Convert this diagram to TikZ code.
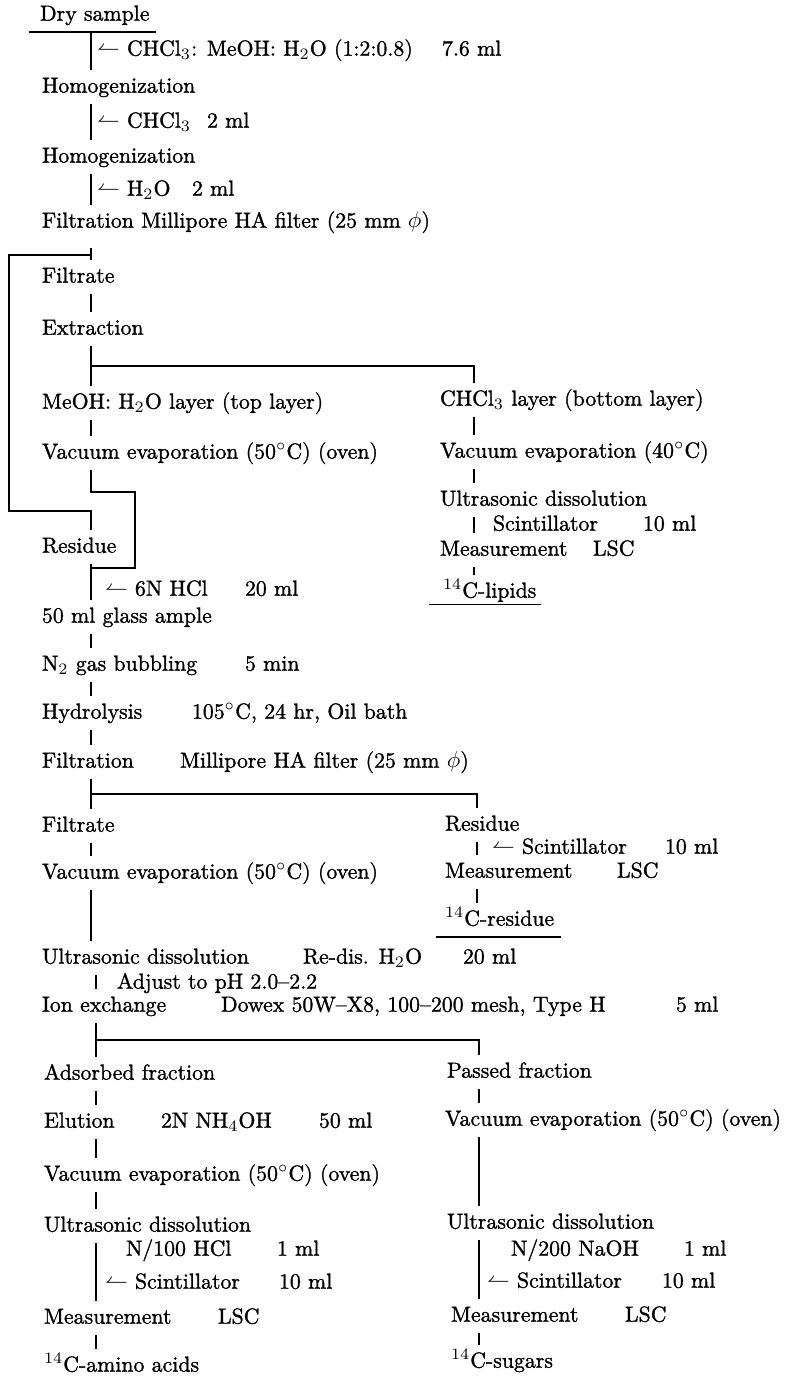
\documentclass[tikz,border=0pt]{standalone}
\usepackage{amsmath}
\usepackage{fontspec}
\setmainfont{Latin Modern Roman}[FakeBold=1.2]
\usepackage{tikz}
\usetikzlibrary{calc,positioning}

\begin{document}
\begin{tikzpicture}[x=0.44pt,y=-0.44pt,line width=0.6pt,
  every node/.append style={anchor=west,inner xsep=0pt,inner ysep=1pt,
    outer xsep=0pt,outer ysep=2pt,text height=7pt,text depth=2pt}]
  \tikzstyle{stage} = [font=\rmfamily\fontsize{9.6}{11}\selectfont,color=black]
  \tikzstyle{add} = [font=\rmfamily\fontsize{9.6}{11}\selectfont,color=black]
  \useasboundingbox (0,0) rectangle (788,1377);
  \coordinate (L) at (91,0);
  \coordinate (Lb) at (96,0);
  \coordinate (R2) at (474,0);
  \coordinate (R3) at (477,0);
  \coordinate (R4) at (479,0);
  % main line
  \node (1_1) [stage] at (40,15) {Dry sample};
  \node (1_2) [stage] at (42,87) {Homogenization};
  \node (1_3) [stage] at (42,157) {Homogenization};
  \node (1_4) [stage] at (42,222) {Filtration Millipore HA filter (25 mm $\phi$)};
  \node (1_5) [stage] at (42,277) {Filtrate};
  \node (1_6) [stage] at (42,329) {Extraction};
  \node (1_7) [stage] at (42,403) {MeOH: H$_2$O layer (top layer)};
  \node (1_8) [stage] at (42,453) {Vacuum evaporation (50$^\circ$C) (oven)};
  \node (1_9) [stage] at (42,547) {Residue};
  \node (1_10) [stage] at (42,617) {50 ml glass ample};
  \node (1_11) [stage] at (42,665) {N$_2$ gas bubbling};
  \node (1_11a) [stage] at (245,665) {5 min};
  \node (1_12) [stage] at (42,713) {Hydrolysis};
  \node (1_12a) [stage] at (192,713) {105$^\circ$C, 24 hr, Oil bath};
  \node (1_13) [stage] at (42,762) {Filtration};
  \node (1_13a) [stage] at (180,762) {Millipore HA filter (25 mm $\phi$)};
  \node (1_14) [stage] at (42,826) {Filtrate};
  \node (1_15) [stage] at (42,873) {Vacuum evaporation (50$^\circ$C) (oven)};
  \node (1_16) [stage] at (42,958) {Ultrasonic dissolution};
  \node (1_16a) [stage] at (303,958) {Re-dis. H$_2$O};
  \node (1_16b) [stage] at (463,958) {20 ml};
  \node (1_17) [stage] at (42,1006) {Ion exchange};
  \node (1_17a) [stage] at (221,1006) {Dowex 50W--X8, 100--200 mesh, Type H};
  \node (1_17b) [stage] at (676,1006) {5 ml};
  \node (1_18) [stage] at (44,1074) {Adsorbed fraction};
  \node (1_19) [stage] at (44,1122) {Elution};
  \node (1_19a) [stage] at (161,1122) {2N NH$_4$OH};
  \node (1_19b) [stage] at (319,1122) {50 ml};
  \node (1_20) [stage] at (44,1175) {Vacuum evaporation (50$^\circ$C) (oven)};
  \node (1_21) [stage] at (44,1226) {Ultrasonic dissolution};
  \node (1_22) [stage] at (44,1318) {Measurement};
  \node (1_22a) [stage] at (218,1318) {LSC};
  \node (1_23) [stage] at (44,1366) {$^{14}$C-amino acids};
  % lipid branch
  \node (2_1) [stage] at (440,400) {CHCl$_3$ layer (bottom layer)};
  \node (2_2) [stage] at (440,452) {Vacuum evaporation (40$^\circ$C)};
  \node (2_3) [stage] at (440,500) {Ultrasonic dissolution};
  \node (2_4) [stage] at (440,550) {Measurement};
  \node (2_4a) [stage] at (593,550) {LSC};
  \node (2_5) [stage] at (443,592) {$^{14}$C-lipids};
  % residue branch
  \node (3_1) [stage] at (445,825) {Residue};
  \node (3_2) [stage] at (445,872) {Measurement};
  \node (3_2a) [stage] at (617,872) {LSC};
  \node (3_3) [stage] at (445,920) {$^{14}$C-residue};
  % sugar branch
  \node (4_1) [stage] at (447,1072) {Passed fraction};
  \node (4_2) [stage] at (445,1120) {Vacuum evaporation (50$^\circ$C) (oven)};
  \node (4_3) [stage] at (447,1223) {Ultrasonic dissolution};
  \node (4_4) [stage] at (451,1316) {Measurement};
  \node (4_4a) [stage] at (625,1316) {LSC};
  \node (4_5) [stage] at (451,1362) {$^{14}$C-sugars};
  % additions
  \node (a_1) [add] at (97,50) {$\leftharpoonup$ CHCl$_3$: MeOH: H$_2$O (1:2:0.8)};
  \node (a_1b) [add] at (442,50) {7.6 ml};
  \node (a_2) [add] at (97,122) {$\leftharpoonup$ CHCl$_3$};
  \node (a_2b) [add] at (207,122) {2 ml};
  \node (a_3) [add] at (97,190) {$\leftharpoonup$ H$_2$O};
  \node (a_3b) [add] at (192,190) {2 ml};
  \node (a_4) [add] at (105,590) {$\leftharpoonup$ 6N\ HCl};
  \node (a_4b) [add] at (245,590) {20 ml};
  \node (a_5) [add] at (493,525) {Scintillator};
  \node (a_5b) [add] at (643,525) {10 ml};
  \node (a_6) [add] at (492,848) {$\leftharpoonup$ Scintillator};
  \node (a_6b) [add] at (665,848) {10 ml};
  \node (a_7) [add] at (117,983) {Adjust to pH 2.0--2.2};
  \node (a_8) [add] at (126,1250) {N/100 HCl};
  \node (a_8b) [add] at (277,1250) {1 ml};
  \node (a_9) [add] at (105,1283) {$\leftharpoonup$ Scintillator};
  \node (a_9b) [add] at (279,1283) {10 ml};
  \node (a_10) [add] at (511,1250) {N/200 NaOH};
  \node (a_10b) [add] at (684,1250) {1 ml};
  \node (a_11) [add] at (487,1282) {$\leftharpoonup$ Scintillator};
  \node (a_11b) [add] at (662,1282) {10 ml};
  % connectors
  \coordinate (la) at (9,255);
  \coordinate (lb) at (9,511);
  \coordinate (ba) at (135,492);
  \coordinate (bb) at (135,568);
  \draw ([xshift=-5pt]1_1.south west) -- ([xshift=3pt]1_1.south east);
  \draw (1_1.south -| L) -- (1_2.north -| L);
  \draw (1_2.south -| L) -- (1_3.north -| L);
  \draw (1_3.south -| L) -- (1_4.north -| L);
  \draw ([yshift=-4pt]1_4.south -| L) -- (1_5.north -| L);
  \draw (la -| L) -- (la) -- (lb) -- (lb -| L) -- (1_9.north -| L);
  \draw (1_5.south -| L) -- (1_6.north -| L);
  \draw (1_6.south -| L) -- (1_7.north -| L);
  \draw ($(1_6.south -| L)!.5!(1_7.north -| L)$) -| (2_1.north -| R2);
  \draw (1_7.south -| L) -- (1_8.north -| L);
  \draw (1_8.south -| L) |- (ba) -- (bb) -- (bb -| L);
  \draw (1_9.south -| L) -- (1_10.north -| L);
  \draw (1_10.south -| L) -- (1_11.north -| L);
  \draw (1_11.south -| L) -- (1_12.north -| L);
  \draw (1_12.south -| L) -- (1_13.north -| L);
  \draw (1_13.south -| L) -- (1_14.north -| L);
  \draw ($(1_13.south -| L)!.5!(1_14.north -| L)$) -| (3_1.north -| R3);
  \draw (1_14.south -| L) -- (1_15.north -| L);
  \draw (1_15.south -| L) -- (1_16.north -| L);
  \draw (1_16.south -| Lb) -- (1_17.north -| Lb);
  \draw (1_17.south -| Lb) -- (1_18.north -| Lb);
  \draw ($(1_17.south -| Lb)!.5!(1_18.north -| Lb)$) -| (4_1.north -| R4);
  \draw (1_18.south -| Lb) -- (1_19.north -| Lb);
  \draw (1_19.south -| Lb) -- (1_20.north -| Lb);
  \draw (1_20.south -| Lb) -- (1_21.north -| Lb);
  \draw (1_21.south -| Lb) -- (1_22.north -| Lb);
  \draw (1_22.south -| Lb) -- (1_23.north -| Lb);
  \draw (2_1.south -| R2) -- (2_2.north -| R2);
  \draw (2_2.south -| R2) -- (2_3.north -| R2);
  \draw (2_3.south -| R2) -- (2_4.north -| R2);
  \draw (2_4.south -| R2) -- (2_5.north -| R2);
  \draw ([xshift=-6pt,yshift=2pt]2_5.south west) -- ([xshift=2pt,yshift=2pt]2_5.south east);
  \draw (3_1.south -| R3) -- (3_2.north -| R3);
  \draw (3_2.south -| R3) -- (3_3.north -| R3);
  \draw ([xshift=-4pt]3_3.south west) -- ([xshift=3pt]3_3.south east);
  \draw (4_1.south -| R4) -- (4_2.north -| R4);
  \draw (4_2.south -| R4) -- (4_3.north -| R4);
  \draw (4_3.south -| R4) -- (4_4.north -| R4);
  \draw (4_4.south -| R4) -- (4_5.north -| R4);
\end{tikzpicture}
\end{document}
